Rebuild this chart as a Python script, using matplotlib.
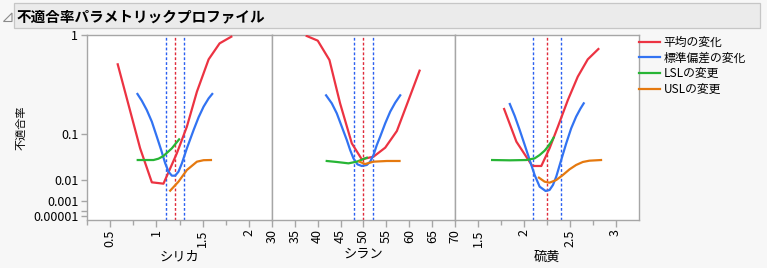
import numpy as np
import matplotlib
matplotlib.use("Agg")
import matplotlib.pyplot as plt
from matplotlib.lines import Line2D
from matplotlib.patches import Rectangle, Polygon
from matplotlib.ticker import FixedLocator, NullFormatter

plt.rcParams['font.family'] = ['Noto Sans CJK JP', 'DejaVu Sans']

# ---------------- data ----------------
title = "不適合率パラメトリックプロファイル"
y_label = "不適合率"
factor_names = ["シリカ", "シラン", "硫黄"]
series_names = ["平均の変化", "標準偏差の変化", "LSLの変更", "USLの変更"]
x_limits = [(0.25, 2.25), (30, 70), (1.25, 3.25)]
x_major = [[0.5, 1, 1.5, 2], [30, 35, 40, 45, 50, 55, 60, 65, 70], [1.5, 2, 2.5, 3]]
x_minor = [[0.25, 0.75, 1.25, 1.75], [], [1.75, 2.25, 2.75]]
x_ticklabels = [["0.5", "1", "1.5", "2"],
                ["30", "35", "40", "45", "50", "55", "60", "65", "70"],
                ["1.5", "2", "2.5", "3"]]
y_ticks = [1, 0.1, 0.01, 0.001, 0.0001, 0.00001]
y_ticklabels = ["1", "0.1", "0.01", "0.001", "", "0.00001"]
spec_lower = [1.1, 48, 2.1]
current_value = [1.2, 50, 2.25]
spec_upper = [1.3, 52, 2.4]

# シリカ
silica_mean_x = [0.580, 0.823, 0.950, 1.076, 1.221, 1.330, 1.439, 1.566, 1.685, 1.812]
silica_mean_p = [0.595, 0.0574, 0.00818, 0.00732, 0.0461, 0.1274, 0.3326, 0.654, 0.870, 0.973]
silica_sd_x = [0.794, 0.841, 0.895, 0.950, 1.004, 1.051, 1.095, 1.131, 1.167, 1.203,
               1.239, 1.276, 1.330, 1.403, 1.457, 1.511, 1.566, 1.605]
silica_sd_p = [0.315, 0.267, 0.209, 0.149, 0.0904, 0.0535, 0.0283, 0.0174, 0.0134, 0.0134,
               0.0174, 0.0283, 0.0574, 0.1141, 0.170, 0.2285, 0.283, 0.315]
silica_lsl_x = [0.797, 0.880, 0.968, 1.022, 1.076, 1.167, 1.246]
silica_lsl_p = [0.0335, 0.0335, 0.0335, 0.0358, 0.0408, 0.0574, 0.0820]
silica_usl_x = [1.149, 1.239, 1.330, 1.439, 1.511, 1.591]
silica_usl_p = [0.00382, 0.00862, 0.0193, 0.0308, 0.0332, 0.0335]

# シラン
silane_mean_x = [37.63, 40.03, 42.58, 44.90, 47.45, 49.63, 52.18, 54.73, 57.27, 59.82, 62.22]
silane_mean_p = [0.984, 0.911, 0.646, 0.2496, 0.0704, 0.0347, 0.0395, 0.0590, 0.1104, 0.2717, 0.525]
silane_sd_x = [41.85, 43.09, 44.18, 45.27, 46.36, 47.09, 47.81, 48.69, 49.63, 50.72,
               51.45, 52.18, 52.90, 53.63, 54.73, 55.82, 56.91, 58.00]
silane_sd_p = [0.3048, 0.2496, 0.1905, 0.1274, 0.0800, 0.0535, 0.0364, 0.0267, 0.0244, 0.0258,
               0.0308, 0.0427, 0.0658, 0.0904, 0.1416, 0.1997, 0.2539, 0.3048]
silane_lsl_x = [41.99, 44.18, 46.72, 48.54, 50.72]
silane_lsl_p = [0.0319, 0.0303, 0.0282, 0.0308, 0.0376]
silane_usl_x = [49.12, 50.36, 52.18, 55.09, 57.85]
silane_usl_p = [0.0308, 0.0272, 0.0308, 0.0319, 0.0319]

# 硫黄
sulfur_mean_x = [1.783, 1.917, 2.091, 2.189, 2.279, 2.370, 2.479, 2.587, 2.696, 2.812]
sulfur_mean_p = [0.2148, 0.0751, 0.0244, 0.0244, 0.0574, 0.1274, 0.2717, 0.464, 0.654, 0.789]
sulfur_sd_x = [1.845, 1.899, 1.953, 2.008, 2.062, 2.116, 2.171, 2.236, 2.279, 2.316,
               2.352, 2.406, 2.461, 2.515, 2.569, 2.616, 2.652]
sulfur_sd_p = [0.2453, 0.1765, 0.1141, 0.0658, 0.0335, 0.01403, 0.00563, 0.00369, 0.00409, 0.00654,
               0.0125, 0.0335, 0.0704, 0.1206, 0.1731, 0.2168, 0.2496]
sulfur_lsl_x = [1.652, 1.845, 2.026, 2.116, 2.171, 2.225, 2.261, 2.298, 2.323]
sulfur_lsl_p = [0.0335, 0.033, 0.0335, 0.0364, 0.0427, 0.0519, 0.0615, 0.0751, 0.0873]
sulfur_usl_x = [2.163, 2.225, 2.279, 2.352, 2.424, 2.497, 2.569, 2.642, 2.714, 2.841]
sulfur_usl_p = [0.01166, 0.00862, 0.00795, 0.00981, 0.01403, 0.0201, 0.0258, 0.0303, 0.0324, 0.0335]

panels = [
    [(silica_mean_x, silica_mean_p), (silica_sd_x, silica_sd_p),
     (silica_lsl_x, silica_lsl_p), (silica_usl_x, silica_usl_p)],
    [(silane_mean_x, silane_mean_p), (silane_sd_x, silane_sd_p),
     (silane_lsl_x, silane_lsl_p), (silane_usl_x, silane_usl_p)],
    [(sulfur_mean_x, sulfur_mean_p), (sulfur_sd_x, sulfur_sd_p),
     (sulfur_lsl_x, sulfur_lsl_p), (sulfur_usl_x, sulfur_usl_p)],
]

# ---------------- style ----------------
colors = ["#ec3342", "#3273f2", "#27b535", "#e5790f"]
dash_blue = "#2a5ff0"
dash_red = "#e02a3a"
frame = "#a6a6a6"
bg = "#f7f7f7"

W, H = 767, 268
fig = plt.figure(figsize=(W / 100, H / 100), dpi=100, facecolor=bg)

def fx(px):
    return px / W

def fy(py):
    return 1 - py / H

# header bar
fig.patches.append(Rectangle((fx(14), fy(28)), fx(760) - fx(14), fy(3) - fy(28),
                             transform=fig.transFigure, facecolor="#ebebeb",
                             edgecolor="#c6c6c6", linewidth=0.9, zorder=0))
fig.patches.append(Polygon([[fx(3.5), fy(21.5)], [fx(12), fy(21.5)], [fx(12), fy(13)]],
                           closed=True, transform=fig.transFigure, facecolor="none",
                           edgecolor="#8a8a8a", linewidth=0.8))
fig.text(fx(17), fy(16), title, fontsize=10.5, fontweight="bold",
         va="center", ha="left", color="black")

top_px, bot_px = 35, 219.5
lefts = [87.3, 271.7, 455.3]
rights = [271.7, 455.3, 638.5]

fwd = lambda v: np.cbrt(v)
inv = lambda v: np.power(v, 3)

axes = []
for i in range(3):
    ax = fig.add_axes([fx(lefts[i]), fy(bot_px), fx(rights[i]) - fx(lefts[i]),
                       fy(top_px) - fy(bot_px)])
    ax.set_facecolor("white")
    ax.set_yscale("function", functions=(fwd, inv))
    ax.set_ylim(0, 1)
    ax.set_xlim(*x_limits[i])
    for s in ax.spines.values():
        s.set_color(frame)
        s.set_linewidth(1.0)

    ax.axvline(spec_lower[i], color=dash_blue, lw=1.0, ls=(0, (2, 1.5)), zorder=2)
    ax.axvline(current_value[i], color=dash_red, lw=1.0, ls=(0, (2, 1.5)), zorder=2)
    ax.axvline(spec_upper[i], color=dash_blue, lw=1.0, ls=(0, (2, 1.5)), zorder=2)

    for k, (xs, ps) in enumerate(panels[i]):
        ax.plot(xs, ps, color=colors[k], lw=1.6, solid_joinstyle="round", zorder=3)

    ax.xaxis.set_major_locator(FixedLocator(x_major[i]))
    ax.set_xticklabels(x_ticklabels[i], rotation=90, fontsize=9)
    ax.xaxis.set_minor_locator(FixedLocator(x_minor[i]))
    ax.tick_params(axis="x", which="major", direction="out", length=5, color=frame,
                   width=1.0, pad=2, labelcolor="black")
    ax.tick_params(axis="x", which="minor", direction="out", length=3.5, color=frame,
                   width=1.0)
    if i == 0:
        ax.yaxis.set_major_locator(FixedLocator(y_ticks))
        ax.set_yticklabels(y_ticklabels, fontsize=9)
        ax.yaxis.set_minor_locator(FixedLocator([]))
        ax.tick_params(axis="y", which="major", direction="out", length=4.5, color=frame,
                       width=1.0, pad=2, labelcolor="black")
    else:
        ax.yaxis.set_major_locator(FixedLocator([]))
        ax.yaxis.set_minor_locator(FixedLocator([]))
        ax.tick_params(axis="y", left=False, labelleft=False)
    ax.set_xlabel(factor_names[i], fontsize=9.5, labelpad=3)
    axes.append(ax)

fig.text(fx(21), fy(128), y_label, rotation=90, fontsize=8, ha="center", va="center")

handles = [Line2D([], [], color=c, lw=1.6) for c in colors]
fig.legend(handles, series_names, loc="upper left",
           bbox_to_anchor=(fx(639), fy(36)), frameon=False, fontsize=8.5,
           handlelength=1.75, handletextpad=0.35, labelspacing=0.22,
           borderpad=0, borderaxespad=0)

fig.savefig("out.png", dpi=100, facecolor=bg)
